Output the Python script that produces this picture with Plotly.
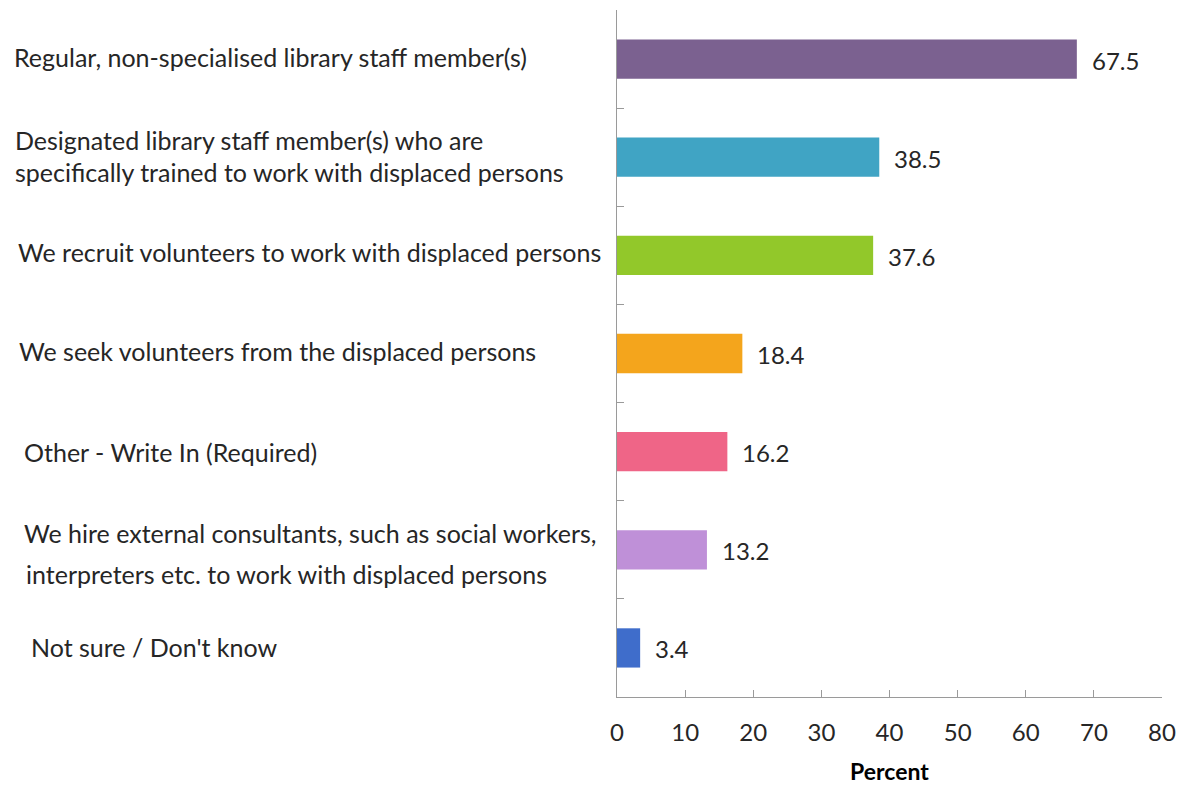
import plotly.graph_objects as go

# Survey responses: who works with displaced persons (percent of libraries)
categories = [
    "Regular, non-specialised library staff member(s)",
    "Designated library staff member(s) who are specifically trained to work with displaced persons",
    "We recruit volunteers to work with displaced persons",
    "We seek volunteers from the displaced persons",
    "Other - Write In (Required)",
    "We hire external consultants, such as social workers, interpreters etc. to work with displaced persons",
    "Not sure / Don't know",
]
label_lines = [
    ["Regular, non-specialised library staff member(s)"],
    ["Designated library staff member(s) who are",
     "specifically trained to work with displaced persons"],
    ["We recruit volunteers to work with displaced persons"],
    ["We seek volunteers from the displaced persons"],
    ["Other - Write In (Required)"],
    ["We hire external consultants, such as social workers,",
     "interpreters etc. to work with displaced persons"],
    ["Not sure / Don't know"],
]
values = [67.5, 38.5, 37.6, 18.4, 16.2, 13.2, 3.4]
colors = ["#7B6190", "#40A4C4", "#92C82A", "#F4A51C", "#EF6587", "#BF90D8", "#3F6DCB"]
x_ticks = [0, 10, 20, 30, 40, 50, 60, 70, 80]

# left pixel offset of each label (relative to the plot's left edge) and line y-offsets
label_left = [-605, -604, -601, -600, -595, -595, -588]
line_shift = [[2], [17, -15], [3], [3], [0], [17, -24], [1]]
line_left_extra = [[0], [0, 0], [0], [0], [0], [0, 2], [0]]

FONT = "Lato"
TEXT = "#262626"

fig = go.Figure(
    go.Bar(
        x=values,
        y=categories,
        orientation="h",
        marker=dict(color=colors, line=dict(width=0)),
        hoverinfo="x+y",
    )
)

annotations = []
for cat, lines, left, shifts, extras in zip(categories, label_lines, label_left, line_shift, line_left_extra):
    for line, sh, ex in zip(lines, shifts, extras):
        annotations.append(dict(
            x=0, xref="paper", y=cat, yref="y",
            text=line, showarrow=False, xanchor="left", yanchor="middle",
            xshift=left + ex, yshift=sh,
            font=dict(family=FONT, size=25, color=TEXT),
        ))

for cat, v in zip(categories, values):
    annotations.append(dict(
        x=v, xref="x", y=cat, yref="y",
        text=f"{v:.1f}", showarrow=False, xanchor="left", yanchor="middle",
        xshift=13, yshift=-1,
        font=dict(family=FONT, size=24, color=TEXT),
    ))

fig.update_layout(
    width=1178, height=785,
    margin=dict(l=617, r=16, t=10, b=88, autoexpand=False),
    paper_bgcolor="white", plot_bgcolor="white",
    bargap=0.6,
    showlegend=False,
    annotations=annotations,
    xaxis=dict(
        range=[0, 80], tickvals=x_ticks, ticktext=[str(t) for t in x_ticks],
        showgrid=False, zeroline=False, automargin=False,
        showline=True, linecolor="#9A9A9A", linewidth=1,
        ticks="inside", ticklen=7, tickcolor="#9A9A9A",
        ticklabelstandoff=14,
        tickfont=dict(family=FONT, size=24, color=TEXT),
        title=dict(text="<b>Percent</b>", font=dict(family=FONT, size=23, color="#000000"), standoff=19),
        fixedrange=True,
    ),
    yaxis=dict(
        autorange="reversed", automargin=False,
        showticklabels=False, showgrid=False, zeroline=False,
        showline=True, linecolor="#9A9A9A", linewidth=1,
        ticks="inside", ticklen=7, tickcolor="#9A9A9A",
        tickson="boundaries",
        fixedrange=True,
    ),
)

fig.write_html("out.html")
